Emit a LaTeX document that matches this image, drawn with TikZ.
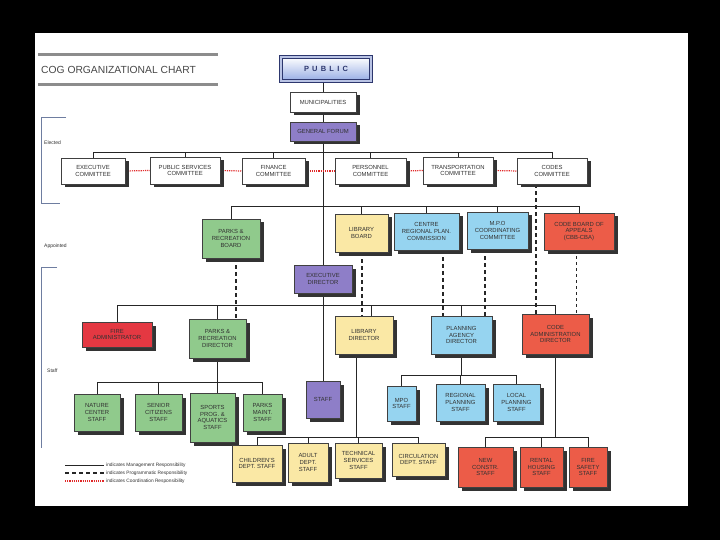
\documentclass[tikz,border=0pt]{standalone}
\usepackage{fontspec}
\setmainfont{Liberation Sans}
\usetikzlibrary{shadows,backgrounds}
\definecolor{grn}{RGB}{144,202,140}
\definecolor{yel}{RGB}{250,232,165}
\definecolor{blu}{RGB}{150,212,240}
\definecolor{redA}{RGB}{228,56,66}
\definecolor{redB}{RGB}{236,92,72}
\definecolor{pur}{RGB}{142,126,200}
\definecolor{navy}{RGB}{45,55,110}
\definecolor{frame}{RGB}{185,195,228}
\definecolor{pubbot}{RGB}{150,172,228}
\definecolor{dotred}{RGB}{225,40,40}
\definecolor{brk}{RGB}{110,125,160}
\definecolor{txt}{RGB}{50,50,50}
\tikzset{
  bx/.style={draw=black!75, line width=0.5pt, inner sep=0.5pt, align=center,
    font=\fontsize{5.9}{6.9}\selectfont, text=txt,
    drop shadow={shadow xshift=3.5pt, shadow yshift=-3.5pt, fill=black!80, opacity=1}},
  wbx/.style={bx, fill=white},
  gbx/.style={bx, fill=grn},
  ybx/.style={bx, fill=yel},
  bbx/.style={bx, fill=blu},
  rbx/.style={bx, fill=redA},
  obx/.style={bx, fill=redB},
  pbx/.style={bx, fill=pur},
  mgmt/.style={draw=black!85, line width=0.7pt},
  prog/.style={draw=black!85, line width=1.3pt, dash pattern=on 4pt off 3pt},
  coordline/.style={draw=dotred, line width=1.2pt, dash pattern=on 1.2pt off 1pt},
  lbl/.style={font=\fontsize{5}{6}\selectfont, text=txt, inner sep=0pt},
  brack/.style={draw=brk, line width=0.6pt}
}
\newcommand{\bx}[7]{\node[#6, minimum width={#4-#2}, minimum height={#5-#3}] (#1) at ({(#2+#4)/2},{(#3+#5)/2}) {#7};}
\begin{document}
\begin{tikzpicture}[x=1pt,y=-1pt]
\useasboundingbox (0,0) rectangle (720,540);
\begin{scope}[on background layer]
  \fill[black] (0,0) rectangle (720,540);
  \fill[white] (35,33) rectangle (688,506);
\end{scope}

% title
\draw[line width=3pt, black!45] (38,55) -- (218,55);
\draw[line width=3pt, black!45] (38,85) -- (218,85);
\node[anchor=west, inner sep=0pt, font=\fontsize{10.3}{12}\selectfont, text=black!72] (title) at (41,70) {COG ORGANIZATIONAL CHART};

% side labels and brackets
\node[lbl, anchor=west] (elected) at (44,143) {Elected};
\node[lbl, anchor=west] (appointed) at (44,246) {Appointed};
\node[lbl, anchor=west] (staff) at (47,371) {Staff};
\draw[brack] (66,117) -- (41,117) -- (41,203) -- (60,203);
\draw[brack] (57,267) -- (41,267) -- (41,448);

% PUBLIC
\node[draw=navy, double=frame, double distance=2.6pt, line width=0.8pt,
  top color=white, bottom color=pubbot, minimum width=90, minimum height=24,
  font=\bfseries\fontsize{7.5}{9}\selectfont, text=navy,
  drop shadow={shadow xshift=2pt, shadow yshift=-2pt, fill=black!60, opacity=1}]
  (pub) at (326,69) {P\hspace{3.2pt}U\hspace{3.2pt}B\hspace{3.2pt}L\hspace{3.2pt}I\hspace{3.2pt}C};

\bx{mun}{290}{92}{356}{112}{wbx}{MUNICIPALITIES}
\bx{gf}{290}{122}{356}{141}{pbx}{GENERAL FORUM}

% elected committees
\bx{ec}{61}{158}{125}{184}{wbx}{EXECUTIVE\\COMMITTEE}
\bx{ps}{150}{157}{220}{184}{wbx}{PUBLIC SERVICES\\COMMITTEE}
\bx{fc}{242}{158}{305}{184}{wbx}{FINANCE\\COMMITTEE}
\bx{pc}{335}{158}{406}{184}{wbx}{PERSONNEL\\COMMITTEE}
\bx{tc}{423}{157}{493}{184}{wbx}{TRANSPORTATION\\COMMITTEE}
\bx{cc}{517}{158}{587}{184}{wbx}{CODES\\COMMITTEE}

% appointed
\bx{pb}{202}{219}{260}{258}{gbx}{PARKS \&\\RECREATION\\BOARD}
\bx{lb}{335}{214}{388}{252}{ybx}{LIBRARY\\BOARD}
\bx{cr}{394}{213}{459}{250}{bbx}{CENTRE\\REGIONAL PLAN.\\COMMISSION}
\bx{mc}{467}{212}{528}{249}{bbx}{M.P.O\\COORDINATING\\COMMITTEE}
\bx{cbd}{544}{213}{614}{250}{obx}{CODE BOARD OF\\APPEALS\\(CBB-CBA)}

\bx{ed}{294}{265}{352}{293}{pbx}{EXECUTIVE\\DIRECTOR}

% directors
\bx{fa}{82}{322}{152}{347}{rbx}{FIRE\\ADMINISTRATOR}
\bx{pd}{189}{319}{246}{358}{gbx}{PARKS \&\\RECREATION\\DIRECTOR}
\bx{ld}{335}{316}{393}{354}{ybx}{LIBRARY\\DIRECTOR}
\bx{pl}{431}{316}{492}{354}{bbx}{PLANNING\\AGENCY\\DIRECTOR}
\bx{ca}{522}{314}{589}{354}{obx}{CODE\\ADMINISTRATION\\DIRECTOR}

% parks staff
\bx{nc}{74}{394}{120}{431}{gbx}{NATURE\\CENTER\\STAFF}
\bx{sc}{135}{394}{182}{431}{gbx}{SENIOR\\CITIZENS\\STAFF}
\bx{sp}{190}{393}{235}{442}{gbx}{SPORTS\\PROG. \&\\AQUATICS\\STAFF}
\bx{pm}{243}{394}{282}{431}{gbx}{PARKS\\MAINT.\\STAFF}

\bx{stf}{306}{381}{340}{418}{pbx}{STAFF}

% planning staff
\bx{ms}{387}{386}{416}{421}{bbx}{MPO\\STAFF}
\bx{rs}{436}{384}{485}{421}{bbx}{REGIONAL\\PLANNING\\STAFF}
\bx{ls}{493}{384}{540}{421}{bbx}{LOCAL\\PLANNING\\STAFF}

% library staff
\bx{ch}{232}{445}{282}{482}{ybx}{CHILDREN'S\\DEPT. STAFF}
\bx{ad}{288}{443}{328}{482}{ybx}{ADULT\\DEPT.\\STAFF}
\bx{ts}{335}{443}{382}{478}{ybx}{TECHNICAL\\SERVICES\\STAFF}
\bx{ci}{392}{443}{445}{476}{ybx}{CIRCULATION\\DEPT. STAFF}

% code staff
\bx{nw}{458}{447}{513}{487}{obx}{NEW\\CONSTR.\\STAFF}
\bx{rh}{520}{447}{563}{487}{obx}{RENTAL\\HOUSING\\STAFF}
\bx{fs}{569}{447}{607}{487}{obx}{FIRE\\SAFETY\\STAFF}

% legend
\node[lbl, anchor=west, font=\fontsize{4.8}{6}\selectfont] (lg1) at (106,465) {indicates Management Responsibility};
\node[lbl, anchor=west, font=\fontsize{4.8}{6}\selectfont] (lg2) at (106,473) {indicates Programmatic Responsibility};
\node[lbl, anchor=west, font=\fontsize{4.8}{6}\selectfont] (lg3) at (106,481) {indicates Coordination Responsibility};
\coordinate (lgx) at (65,0);
\draw[mgmt] (lg1.west -| lgx) -- ([xshift=-2pt]lg1.west);
\draw[prog, line width=1.8pt] (lg2.west -| lgx) -- ([xshift=-2pt]lg2.west);
\draw[coordline, line width=1.5pt] (lg3.west -| lgx) -- ([xshift=-2pt]lg3.west);

\begin{scope}[on background layer]
% trunk
\draw[mgmt] (pub.south -| mun.north) -- (mun.north);
\draw[mgmt] (mun.south) -- (gf.north);
\draw[mgmt] (gf.south) -- (ed.north);
\draw[mgmt] (ed.south) -- (stf.north);
% committee bus
\coordinate (cbus) at (0,152);
\draw[mgmt] (ec.north) |- (cc.north |- cbus) -- (cc.north);
\foreach \n in {ps,fc,pc,tc} \draw[mgmt] (\n.north) -- (\n.north |- cbus);
% coordination
\draw[coordline] (ec.east) -- (ps.west);
\draw[coordline] (ps.east) -- (fc.west);
\draw[coordline] (fc.east) -- (pc.west);
\draw[coordline] (pc.east) -- (tc.west);
\draw[coordline] (tc.east) -- (cc.west);
% appointed bus
\coordinate (abus) at (0,206);
\draw[mgmt] (pb.north) |- (cbd.north |- abus) -- (cbd.north);
\foreach \n in {lb,cr,mc} \draw[mgmt] (\n.north) -- (\n.north |- abus);
% staff bus
\coordinate (sbus) at (0,305);
\draw[mgmt] (fa.north) |- (ca.north |- sbus) -- (ca.north);
\draw[mgmt] (pd.north) -- (pd.north |- sbus);
\coordinate (xld) at (371,0);
\draw[mgmt] (ld.north -| xld) -- (sbus -| xld);
\draw[mgmt] (pl.north) -- (pl.north |- sbus);
% parks staff
\coordinate (pbus) at (0,382);
\draw[mgmt] (pd.south) -- (pd.south |- sp.north);
\draw[mgmt] (nc.north) |- (pm.north |- pbus) -- (pm.north);
\draw[mgmt] (sc.north) -- (sc.north |- pbus);
% planning staff
\coordinate (plbus) at (0,375);
\draw[mgmt] (pl.south) -- (pl.south |- plbus);
\draw[mgmt] (ms.north) |- (ls.north |- plbus) -- (ls.north);
\draw[mgmt] (rs.north) -- (rs.north |- plbus);
% library staff
\coordinate (lbus) at (0,437);
\coordinate (xlds) at (356,0);
\draw[mgmt] (ld.south -| xlds) -- (lbus -| xlds);
\draw[mgmt] (ch.north) |- (ci.north |- lbus) -- (ci.north);
\draw[mgmt] (ad.north) -- (ad.north |- lbus);
\draw[mgmt] (ts.north) -- (ts.north |- lbus);
% code staff
\draw[mgmt] (ca.south) -- (ca.south |- lbus);
\draw[mgmt] (nw.north) |- (fs.north |- lbus) -- (fs.north);
\draw[mgmt] (rh.north) -- (rh.north |- lbus);
% programmatic (dashed)
\coordinate (d1) at (236,0);
\coordinate (d2) at (362,0);
\coordinate (d3) at (443,0);
\coordinate (d4) at (485,0);
\coordinate (d5) at (536,0);
\coordinate (d6) at (576,0);
\draw[prog] (pb.south -| d1) -- (pd.north -| d1);
\draw[prog] (lb.south -| d2) -- (ld.north -| d2);
\draw[prog] (cr.south -| d3) -- (pl.north -| d3);
\draw[prog] (mc.south -| d4) -- (pl.north -| d4);
\draw[prog] (cc.south -| d5) -- (ca.north -| d5);
\draw[prog, line width=0.9pt, dash pattern=on 3pt off 3pt] (cbd.south -| d6) -- (ca.north -| d6);
\end{scope}
\end{tikzpicture}
\end{document}
